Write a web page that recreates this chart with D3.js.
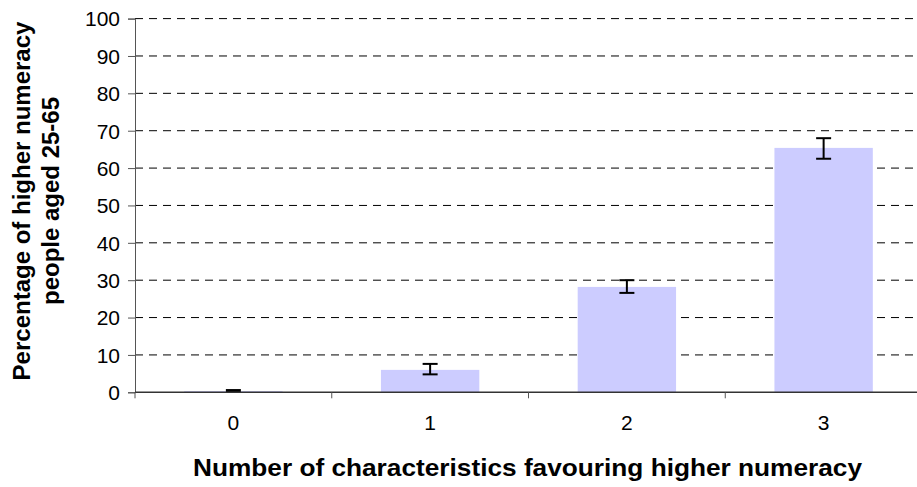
<!DOCTYPE html>
<html><head><meta charset="utf-8">
<script src="https://cdn.jsdelivr.net/npm/d3@7"></script>
<style>body{margin:0;background:#fff}svg{display:block}text{font-family:"Liberation Sans",Arial,sans-serif}</style>
</head><body><svg id="c" width="917" height="487"></svg>
<script>
const categories = ["0","1","2","3"];
const values = [0.3, 6.0, 28.2, 65.4];
const errLow = [0.1, 4.8, 26.6, 62.5];
const errHigh = [0.6, 7.6, 30.0, 68.0];
const yTicks = [0,10,20,30,40,50,60,70,80,90,100];
const xTitle = "Number of characteristics favouring higher numeracy";
const yTitle = ["Percentage of higher numeracy","people aged 25-65"];

const svg = d3.select("#c");
const L = 135, R = 922, T = 18.6, B = 392.3;
const x = d3.scaleBand().domain(categories).range([L, R]).paddingInner(0.5).paddingOuter(0.25);
const y = d3.scaleLinear().domain([0,100]).range([B, T]);

// gridlines
svg.append("g").selectAll("line").data(yTicks.filter(d=>d>0)).join("line")
  .attr("x1", L).attr("x2", R).attr("y1", d=>y(d)).attr("y2", d=>y(d))
  .attr("stroke", "#000").attr("stroke-dasharray", "8,6");

// bars
svg.append("g").selectAll("rect").data(categories).join("rect")
  .attr("x", d=>x(d)).attr("width", x.bandwidth())
  .attr("y", (d,i)=>y(values[i])).attr("height", (d,i)=>B - y(values[i]))
  .attr("fill", "#CCCCFF");

// error bars
const eg = svg.append("g").attr("stroke", "#000").attr("stroke-width", 2);
categories.forEach((c,i)=>{
  const cx = x(c) + x.bandwidth()/2;
  eg.append("line").attr("x1", cx).attr("x2", cx).attr("y1", y(errLow[i])).attr("y2", y(errHigh[i]));
  eg.append("line").attr("x1", cx-7.5).attr("x2", cx+7.5).attr("y1", y(errLow[i])).attr("y2", y(errLow[i]));
  eg.append("line").attr("x1", cx-7.5).attr("x2", cx+7.5).attr("y1", y(errHigh[i])).attr("y2", y(errHigh[i]));
});

// y axis
const ya = svg.append("g").attr("transform", `translate(${L},0)`)
  .call(d3.axisLeft(y).tickValues(yTicks).tickSize(7).tickPadding(8));
ya.select(".domain").attr("stroke", "#555");
ya.selectAll(".tick line").attr("stroke", "#555");
ya.selectAll("text").attr("font-size", 21).attr("fill", "#000").attr("dy", "0.35em")
  .attr("font-family", "Liberation Sans, Arial, sans-serif");

// x axis
svg.append("line").attr("x1", L).attr("x2", R).attr("y1", B).attr("y2", B).attr("stroke", "#333").attr("stroke-width", 1.5);
const bounds = d3.range(categories.length+1).map(i => L + i*(R-L)/categories.length);
svg.append("g").selectAll("line").data(bounds).join("line")
  .attr("x1", d=>d).attr("x2", d=>d).attr("y1", B).attr("y2", B+6).attr("stroke", "#555");
svg.append("g").selectAll("text").data(categories).join("text")
  .attr("x", d=>x(d)+x.bandwidth()/2).attr("y", 430).attr("text-anchor", "middle")
  .attr("font-size", 21).text(d=>d);

// titles
svg.append("text").attr("x", 193).attr("y", 476)
  .attr("font-size", 24).attr("font-weight", "bold")
  .attr("textLength", 669).attr("lengthAdjust", "spacingAndGlyphs").text(xTitle);
const yt = svg.append("text").attr("transform", "translate(0,201) rotate(-90)").attr("text-anchor", "middle")
  .attr("font-size", 24).attr("font-weight", "bold");
yt.append("tspan").attr("x", 0).attr("y", 30).text(yTitle[0]);
yt.append("tspan").attr("x", 0).attr("y", 59).text(yTitle[1]);
</script></body></html>
